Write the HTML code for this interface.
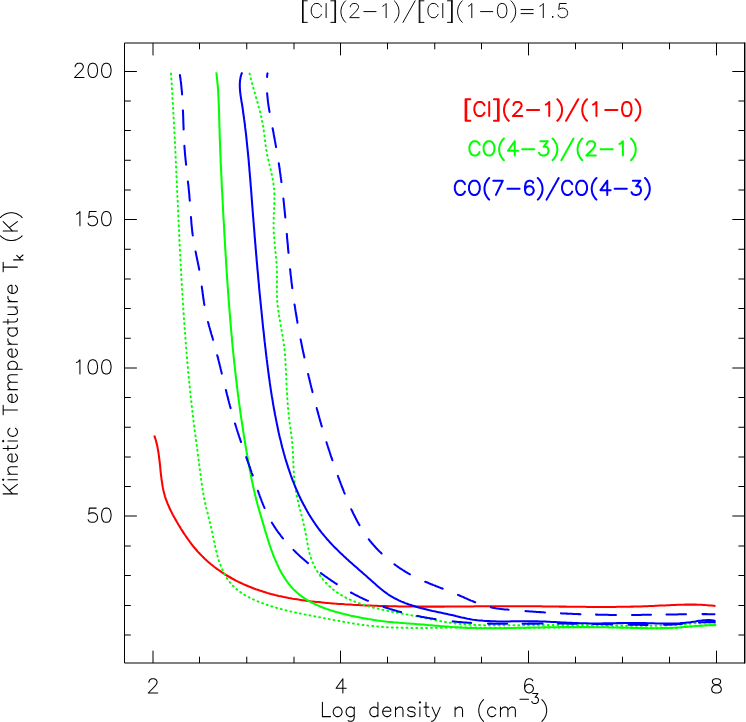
<!DOCTYPE html>
<html lang="en"><head><meta charset="utf-8"><title>[CI](2-1)/[CI](1-0)=1.5</title>
<style>html,body{margin:0;padding:0;background:#fff;font-family:"Liberation Sans",sans-serif}svg{display:block}.t{font-family:"Liberation Sans",sans-serif;font-size:14px;fill:#000;fill-opacity:0}</style></head>
<body>
<svg width="746" height="722" viewBox="0 0 746 722">
<rect x="0" y="0" width="746" height="722" fill="#fff"/>
<path d="M744.72 42.5V663.5" fill="none" stroke="#000" stroke-width="1.45"/>
<path d="M744.72 43H124.5V663H744.72M153 663v-12.4M153 43v12.4M199.5 663v-6.3M199.5 43v6.3M246.75 663v-6.3M246.75 43v6.3M294 663v-6.3M294 43v6.3M340.5 663v-12.4M340.5 43v12.4M387.5 663v-6.3M387.5 43v6.3M434.75 663v-6.3M434.75 43v6.3M481.5 663v-6.3M481.5 43v6.3M528.5 663v-12.4M528.5 43v12.4M575.5 663v-6.3M575.5 43v6.3M622.5 663v-6.3M622.5 43v6.3M669.5 663v-6.3M669.5 43v6.3M716.5 663v-12.4M716.5 43v12.4M124.5 635h6.3M744.72 635h-6.3M124.5 605.5h6.3M744.72 605.5h-6.3M124.5 575.5h6.3M744.72 575.5h-6.3M124.5 546h6.3M744.72 546h-6.3M124.5 516h12.4M744.72 516h-12.4M124.5 486.5h6.3M744.72 486.5h-6.3M124.5 457h6.3M744.72 457h-6.3M124.5 427.25h6.3M744.72 427.25h-6.3M124.5 397.5h6.3M744.72 397.5h-6.3M124.5 368h12.4M744.72 368h-12.4M124.5 338.25h6.3M744.72 338.25h-6.3M124.5 308.5h6.3M744.72 308.5h-6.3M124.5 279h6.3M744.72 279h-6.3M124.5 249.25h6.3M744.72 249.25h-6.3M124.5 219.5h12.4M744.72 219.5h-12.4M124.5 190h6.3M744.72 190h-6.3M124.5 160.25h6.3M744.72 160.25h-6.3M124.5 130.5h6.3M744.72 130.5h-6.3M124.5 101h6.3M744.72 101h-6.3M124.5 71.5h12.4M744.72 71.5h-12.4" fill="none" stroke="#000" stroke-width="1" stroke-linecap="butt" stroke-linejoin="round"/>
<g fill="none" stroke-width="2.05" stroke-linejoin="round">
<path d="M154.3 435.5L154.9 437.4L155.5 439.3L156.1 441.2L156.6 443.2L157 445.1L157.5 447.1L157.8 449.1L158.2 451L158.5 453L158.8 455L159 457L159.3 459L159.5 461L159.8 463L160 465L160.2 467.1L160.4 469.1L160.6 471.1L160.8 473.1L161 475.1L161.3 477.1L161.5 479.1L161.8 481L162.1 483L162.4 485L162.7 486.9L163.1 488.9L163.5 490.8L164 492.7L164.5 494.6L165 496.5L165.6 498.4L166.3 500.2L167 502.1L167.7 503.9L168.5 505.7L169.3 507.5L170.1 509.3L171 511.1L171.9 512.9L172.8 514.7L173.8 516.4L174.8 518.2L175.7 519.9L176.8 521.7L177.8 523.4L178.8 525.2L179.9 526.9L180.9 528.7L182 530.4L183.1 532.1L184.2 533.8L185.4 535.5L186.5 537.2L187.7 538.9L188.9 540.5L190.1 542.2L191.3 543.8L192.5 545.4L193.8 547L195.1 548.5L196.4 550L197.7 551.6L199.1 553L200.5 554.5L201.9 555.9L203.3 557.3L204.7 558.7L206.2 560.1L207.7 561.4L209.2 562.7L210.7 564L212.3 565.3L213.8 566.5L215.4 567.7L217 568.9L218.6 570L220.3 571.2L221.9 572.3L223.6 573.4L225.2 574.5L226.9 575.5L228.7 576.5L230.4 577.5L232.1 578.5L233.9 579.5L235.6 580.4L237.4 581.3L239.2 582.2L241 583L242.8 583.9L244.7 584.7L246.5 585.5L248.3 586.3L250.2 587L252.1 587.8L253.9 588.5L255.8 589.2L257.7 589.8L259.6 590.5L261.5 591.1L263.4 591.7L265.3 592.3L267.3 592.9L269.2 593.4L271.1 594L273 594.5L275 595L276.9 595.4L278.9 595.9L280.8 596.3L282.8 596.8L284.8 597.2L286.7 597.6L288.7 598L290.7 598.3L292.6 598.7L294.6 599L296.6 599.3L298.6 599.6L300.6 599.9L302.6 600.2L304.6 600.5L306.6 600.8L308.6 601L310.5 601.3L312.5 601.5L314.5 601.7L316.6 601.9L318.6 602.1L320.6 602.3L322.6 602.5L324.6 602.7L326.6 602.9L328.6 603.1L330.6 603.2L332.6 603.4L334.6 603.6L336.6 603.7L338.6 603.9L340.6 604L342.6 604.1L344.6 604.3L346.6 604.4L348.6 604.5L350.6 604.6L352.6 604.8L354.6 604.9L356.6 605L358.6 605.1L360.7 605.2L362.7 605.3L364.7 605.4L366.7 605.5L368.7 605.5L370.7 605.6L372.7 605.7L374.7 605.8L376.7 605.8L378.7 605.9L380.7 606L382.7 606L384.7 606.1L386.7 606.1L388.7 606.2L390.7 606.2L392.7 606.3L394.7 606.3L396.7 606.3L398.7 606.4L400.7 606.4L402.7 606.4L404.7 606.4L406.7 606.5L408.7 606.5L410.8 606.5L412.8 606.5L414.8 606.5L416.8 606.6L418.8 606.6L420.8 606.6L422.8 606.6L424.8 606.6L426.8 606.6L428.8 606.6L430.8 606.6L432.8 606.6L434.8 606.6L436.8 606.6L438.8 606.6L440.8 606.6L442.8 606.6L444.8 606.6L446.8 606.5L448.8 606.5L450.8 606.5L452.8 606.5L454.8 606.5L456.8 606.5L458.9 606.5L460.9 606.5L462.9 606.4L464.9 606.4L466.9 606.4L468.9 606.4L470.9 606.4L472.9 606.4L474.9 606.3L476.9 606.3L478.9 606.3L480.9 606.3L482.9 606.3L484.9 606.3L486.9 606.3L488.9 606.2L490.9 606.2L492.9 606.2L494.9 606.2L496.9 606.2L498.9 606.2L501 606.2L503 606.2L505 606.2L507 606.2L509 606.2L511 606.2L513 606.2L515 606.2L517 606.2L519 606.2L521 606.2L523 606.2L525 606.2L527 606.2L529 606.2L531 606.3L533.1 606.3L535.1 606.3L537.1 606.3L539.1 606.3L541.1 606.3L543.1 606.4L545.1 606.4L547.1 606.4L549.1 606.4L551.1 606.5L553.1 606.5L555.1 606.5L557.1 606.5L559.1 606.6L561.2 606.6L563.2 606.6L565.2 606.6L567.2 606.7L569.2 606.7L571.2 606.7L573.2 606.7L575.2 606.7L577.2 606.8L579.2 606.8L581.2 606.8L583.2 606.8L585.2 606.8L587.2 606.9L589.3 606.9L591.3 606.9L593.3 606.9L595.3 606.9L597.3 606.9L599.3 606.9L601.3 606.9L603.3 606.9L605.3 606.9L607.3 606.9L609.3 606.9L611.3 606.9L613.3 606.9L615.3 606.9L617.3 606.8L619.3 606.8L621.4 606.8L623.4 606.8L625.4 606.7L627.4 606.7L629.4 606.7L631.4 606.6L633.4 606.6L635.4 606.5L637.4 606.5L639.4 606.4L641.4 606.4L643.4 606.3L645.4 606.2L647.4 606.2L649.4 606.1L651.4 606L653.4 605.9L655.4 605.8L657.4 605.7L659.4 605.6L661.4 605.5L663.4 605.4L665.4 605.4L667.4 605.3L669.4 605.2L671.4 605.1L673.4 605L675.4 604.9L677.4 604.8L679.4 604.8L681.4 604.7L683.4 604.7L685.4 604.6L687.4 604.6L689.4 604.6L691.4 604.6L693.5 604.6L695.5 604.6L697.5 604.7L699.5 604.8L701.5 604.8L703.5 604.9L705.5 605.1L707.5 605.2L709.5 605.4L711.5 605.6L713.5 605.8L715.5 606" stroke="#f00" stroke-linecap="butt"/>
<path d="M171 73.6L171.1 75.6L171.3 77.6L171.4 79.6L171.5 81.6L171.7 83.6L171.8 85.6L171.9 87.6L172 89.6L172.2 91.6L172.3 93.6L172.4 95.6L172.5 97.6L172.6 99.6L172.7 101.6L172.9 103.6L173 105.6L173.1 107.6L173.2 109.6L173.3 111.6L173.4 113.6L173.5 115.6L173.6 117.6L173.8 119.6L173.9 121.6L174 123.6L174.1 125.6L174.2 127.6L174.3 129.6L174.4 131.6L174.5 133.6L174.6 135.6L174.7 137.6L174.8 139.6L174.9 141.6L175 143.6L175.1 145.6L175.2 147.6L175.3 149.6L175.4 151.6L175.5 153.6L175.6 155.6L175.7 157.6L175.7 159.6L175.8 161.6L175.9 163.6L176 165.6L176.1 167.6L176.2 169.6L176.3 171.6L176.4 173.6L176.5 175.6L176.6 177.6L176.7 179.6L176.8 181.6L176.9 183.6L176.9 185.7L177 187.7L177.1 189.7L177.2 191.7L177.3 193.7L177.4 195.7L177.5 197.7L177.6 199.7L177.7 201.7L177.8 203.7L177.9 205.7L177.9 207.7L178 209.7L178.1 211.7L178.2 213.7L178.3 215.7L178.4 217.7L178.5 219.7L178.6 221.7L178.7 223.7L178.8 225.7L178.9 227.7L179 229.7L179.1 231.7L179.2 233.7L179.3 235.7L179.3 237.7L179.4 239.7L179.5 241.7L179.6 243.7L179.7 245.7L179.8 247.7L179.9 249.7L180 251.7L180.1 253.7L180.2 255.7L180.3 257.7L180.4 259.7L180.6 261.7L180.7 263.7L180.8 265.7L180.9 267.7L181 269.7L181.1 271.7L181.2 273.7L181.3 275.7L181.4 277.7L181.5 279.7L181.6 281.7L181.8 283.7L181.9 285.7L182 287.7L182.1 289.7L182.2 291.7L182.4 293.7L182.5 295.7L182.6 297.7L182.7 299.7L182.8 301.7L183 303.7L183.1 305.7L183.2 307.7L183.4 309.7L183.5 311.7L183.6 313.7L183.8 315.7L183.9 317.7L184 319.7L184.2 321.7L184.3 323.7L184.5 325.7L184.6 327.7L184.8 329.7L184.9 331.7L185.1 333.7L185.2 335.7L185.4 337.7L185.5 339.7L185.7 341.7L185.8 343.7L186 345.7L186.1 347.7L186.3 349.7L186.5 351.7L186.6 353.7L186.8 355.7L187 357.7L187.2 359.6L187.3 361.6L187.5 363.6L187.7 365.6L187.9 367.6L188 369.6L188.2 371.6L188.4 373.6L188.6 375.6L188.8 377.6L189 379.6L189.2 381.6L189.4 383.6L189.6 385.6L189.8 387.6L190 389.6L190.2 391.6L190.4 393.5L190.6 395.5L190.8 397.5L191.1 399.5L191.3 401.5L191.5 403.5L191.7 405.5L191.9 407.5L192.2 409.5L192.4 411.5L192.6 413.5L192.9 415.5L193.1 417.4L193.3 419.4L193.6 421.4L193.8 423.4L194.1 425.4L194.3 427.4L194.6 429.4L194.8 431.4L195.1 433.4L195.4 435.3L195.6 437.3L195.9 439.3L196.1 441.3L196.4 443.3L196.7 445.3L196.9 447.3L197.2 449.3L197.5 451.2L197.7 453.2L198 455.2L198.3 457.2L198.5 459.2L198.8 461.2L199.1 463.2L199.3 465.2L199.6 467.2L199.8 469.1L200.1 471.1L200.4 473.1L200.6 475.1L200.9 477.1L201.1 479.1L201.4 481.1L201.7 483.1L201.9 485L202.2 487L202.5 489L202.8 491L203.2 492.9L203.5 494.9L203.9 496.9L204.2 498.8L204.6 500.8L205.1 502.7L205.5 504.7L206 506.6L206.4 508.5L206.9 510.5L207.4 512.4L207.9 514.3L208.3 516.2L208.8 518.2L209.3 520.1L209.8 522.1L210.3 524L210.7 525.9L211.2 527.9L211.6 529.9L212.1 531.8L212.5 533.8L212.9 535.8L213.3 537.8L213.7 539.8L214.2 541.7L214.6 543.7L215 545.7L215.4 547.7L215.9 549.7L216.4 551.6L216.9 553.6L217.4 555.6L217.9 557.5L218.5 559.4L219.1 561.3L219.8 563.2L220.5 565.1L221.2 567L222 568.8L222.8 570.6L223.7 572.4L224.6 574.2L225.6 575.9L226.6 577.6L227.7 579.3L228.9 580.9L230 582.4L231.3 583.9L232.6 585.4L234 586.8L235.4 588.2L236.8 589.4L238.4 590.7L240 591.9L241.6 593L243.2 594.1L244.9 595.1L246.7 596.1L248.5 597.1L250.3 598L252.1 598.9L253.9 599.7L255.8 600.5L257.6 601.3L259.5 602.1L261.4 602.8L263.3 603.5L265.2 604.2L267.1 604.9L269 605.5L270.9 606.1L272.8 606.7L274.8 607.3L276.7 607.9L278.6 608.4L280.6 608.9L282.5 609.5L284.4 610L286.4 610.4L288.3 610.9L290.3 611.4L292.3 611.8L294.2 612.2L296.2 612.7L298.1 613.1L300.1 613.5L302.1 613.9L304 614.3L306 614.7L308 615.1L309.9 615.4L311.9 615.8L313.9 616.2L315.9 616.6L317.8 616.9L319.8 617.3L321.8 617.7L323.7 618.1L325.7 618.5L327.7 618.8L329.7 619.2L331.6 619.6L333.6 620L335.6 620.4L337.5 620.7L339.5 621.1L341.5 621.5L343.4 621.8L345.4 622.2L347.4 622.5L349.3 622.9L351.3 623.2L353.3 623.5L355.2 623.8L357.2 624.1L359.2 624.4L361.2 624.7L363.1 625L365.1 625.2L367.1 625.5L369.1 625.7L371.1 625.9L373.1 626.1L375 626.3L377 626.5L379 626.6L381 626.8L383 626.9L385 627.1L387 627.2L389 627.3L391 627.4L393 627.5L395 627.5L397 627.6L399 627.7L401 627.7L403 627.8L405 627.8L407 627.8L409 627.9L411 627.9L413 627.9L415 627.9L417.1 627.9L419.1 627.9L421.1 627.9L423.1 627.9L425.1 627.9L427.1 627.9L429.1 627.9L431.1 627.8L433.1 627.8L435.1 627.8L437.2 627.8L439.2 627.8L441.2 627.7L443.2 627.7L445.2 627.7L447.2 627.7L449.2 627.6L451.2 627.6L453.2 627.6L455.2 627.6L457.2 627.6L459.2 627.6L461.3 627.6L463.3 627.6L465.3 627.6L467.3 627.6L469.3 627.6L471.3 627.6L473.3 627.6L475.3 627.6L477.3 627.6L479.3 627.7L481.3 627.7L483.3 627.7L485.3 627.7L487.3 627.7L489.3 627.7L491.3 627.7L493.3 627.8L495.3 627.8L497.3 627.8L499.3 627.8L501.3 627.8L503.3 627.8L505.3 627.8L507.3 627.9L509.3 627.9L511.3 627.9L513.3 627.9L515.3 627.9L517.3 627.9L519.3 627.9L521.3 627.9L523.3 627.9L525.3 627.9L527.3 627.9L529.3 627.9L531.3 627.8L533.3 627.8L535.3 627.8L537.3 627.8L539.3 627.8L541.3 627.7L543.3 627.7L545.3 627.7L547.3 627.6L549.3 627.6L551.3 627.6L553.3 627.5L555.3 627.5L557.3 627.5L559.3 627.4L561.3 627.4L563.4 627.4L565.4 627.3L567.4 627.3L569.4 627.3L571.4 627.3L573.4 627.2L575.4 627.2L577.4 627.2L579.4 627.1L581.4 627.1L583.4 627.1L585.4 627.1L587.4 627.1L589.4 627.1L591.4 627L593.4 627L595.5 627L597.5 627L599.5 627L601.5 627L603.5 627.1L605.5 627.1L607.5 627.1L609.5 627.1L611.5 627.1L613.5 627.2L615.5 627.2L617.5 627.3L619.5 627.3L621.5 627.4L623.5 627.4L625.5 627.5L627.5 627.5L629.5 627.6L631.5 627.7L633.5 627.8L635.5 627.8L637.6 627.9L639.6 627.9L641.6 628L643.6 628.1L645.6 628.1L647.6 628.2L649.6 628.2L651.6 628.2L653.6 628.3L655.6 628.3L657.6 628.3L659.6 628.3L661.6 628.3L663.6 628.2L665.6 628.2L667.6 628.1L669.6 628.1L671.6 628L673.5 627.9L675.5 627.8L677.5 627.7L679.5 627.5L681.5 627.3L683.5 627.2L685.5 627L687.5 626.8L689.5 626.6L691.5 626.4L693.5 626.2L695.5 626L697.5 625.8L699.5 625.7L701.5 625.5L703.5 625.4L705.5 625.2L707.5 625.2L709.5 625.1L711.5 625.1L713.5 625.1L715.5 625.1" stroke="#0f0" stroke-width="2" stroke-linecap="round" stroke-dasharray="0.9 4"/>
<path d="M249.6 73.6L250.1 75.5L250.5 77.5L251 79.4L251.5 81.4L252.1 83.3L252.6 85.2L253.1 87.2L253.7 89.1L254.2 91L254.8 92.9L255.3 94.9L255.9 96.8L256.5 98.7L257 100.7L257.6 102.6L258.1 104.5L258.6 106.5L259.1 108.4L259.7 110.3L260.2 112.3L260.6 114.2L261.1 116.2L261.5 118.1L261.9 120.1L262.3 122L262.7 124L263.1 126L263.4 127.9L263.7 129.9L263.9 131.9L264.2 133.9L264.5 135.9L264.7 137.9L265 139.8L265.2 141.8L265.5 143.8L265.7 145.8L266 147.8L266.3 149.8L266.7 151.7L267 153.7L267.4 155.7L267.8 157.6L268.3 159.6L268.7 161.5L269.2 163.5L269.6 165.5L270.1 167.4L270.6 169.3L271 171.3L271.5 173.3L271.9 175.2L272.3 177.2L272.7 179.1L273 181.1L273.4 183L273.6 185L273.9 187L274.1 189L274.2 190.9L274.3 192.9L274.4 194.9L274.4 196.9L274.4 198.9L274.4 200.9L274.3 202.9L274.3 204.9L274.2 207L274.1 209L274 211L273.9 213L273.8 215L273.7 217L273.7 219L273.6 221L273.6 223.1L273.6 225.1L273.6 227.1L273.6 229.1L273.7 231.1L273.8 233.1L273.9 235.1L274.1 237.1L274.3 239L274.4 241L274.6 243L274.8 245L275 247L275.2 249L275.4 251L275.6 253L275.8 255L276 257L276.2 258.9L276.4 260.9L276.5 262.9L276.6 264.9L276.8 266.9L276.9 268.9L276.9 270.9L277 272.9L277 274.9L277 277L277 279L277 281L276.9 283L276.9 285L276.9 287L276.9 289L276.9 291L276.9 293L276.9 295L277 297L277.1 299L277.2 301L277.4 303L277.6 305L277.8 307L278.1 309L278.4 310.9L278.6 312.9L278.9 314.9L279.3 316.9L279.6 318.9L279.9 320.8L280.3 322.8L280.6 324.8L281 326.8L281.4 328.7L281.7 330.7L282.1 332.7L282.4 334.7L282.7 336.6L283.1 338.6L283.4 340.6L283.7 342.6L283.9 344.6L284.2 346.6L284.4 348.5L284.6 350.5L284.8 352.5L285 354.5L285.1 356.5L285.2 358.5L285.4 360.5L285.5 362.5L285.6 364.5L285.7 366.5L285.8 368.5L285.9 370.5L286 372.5L286.1 374.5L286.2 376.5L286.3 378.5L286.3 380.5L286.4 382.5L286.5 384.5L286.6 386.5L286.7 388.5L286.8 390.5L287 392.5L287.1 394.5L287.2 396.5L287.3 398.5L287.5 400.5L287.6 402.5L287.8 404.5L287.9 406.5L288.1 408.5L288.3 410.5L288.5 412.5L288.7 414.5L288.9 416.5L289.1 418.4L289.4 420.4L289.6 422.4L289.9 424.4L290.2 426.4L290.5 428.4L290.7 430.4L291 432.3L291.3 434.3L291.5 436.3L291.8 438.3L292 440.3L292.2 442.3L292.4 444.3L292.5 446.3L292.6 448.3L292.8 450.3L292.9 452.3L293 454.3L293.1 456.3L293.2 458.3L293.2 460.3L293.3 462.3L293.4 464.3L293.5 466.3L293.6 468.3L293.7 470.3L293.8 472.3L293.9 474.3L294.1 476.3L294.2 478.3L294.4 480.3L294.6 482.3L294.8 484.3L295.1 486.3L295.4 488.2L295.7 490.2L296.1 492.2L296.4 494.1L296.8 496.1L297.3 498.1L297.7 500L298.2 502L298.6 503.9L299.1 505.9L299.6 507.8L300.1 509.8L300.6 511.7L301.1 513.6L301.6 515.6L302.1 517.5L302.6 519.5L303 521.4L303.5 523.4L303.9 525.3L304.4 527.3L304.8 529.2L305.2 531.2L305.6 533.2L306 535.1L306.3 537.1L306.7 539.1L307 541.1L307.4 543.1L307.7 545L308.1 547L308.5 549L308.9 550.9L309.4 552.9L309.9 554.8L310.5 556.7L311.2 558.6L311.9 560.5L312.6 562.3L313.4 564.2L314.3 566L315.2 567.8L316.2 569.5L317.2 571.3L318.2 573L319.4 574.6L320.5 576.3L321.7 577.9L323 579.5L324.3 581L325.6 582.5L327 583.9L328.4 585.3L329.9 586.7L331.4 588L332.9 589.3L334.5 590.5L336.1 591.7L337.7 592.8L339.4 593.9L341.1 595L342.8 596L344.6 596.9L346.3 597.9L348.1 598.7L350 599.6L351.8 600.4L353.6 601.2L355.5 601.9L357.4 602.7L359.3 603.3L361.2 604L363.1 604.6L365.1 605.2L367 605.8L368.9 606.4L370.9 606.9L372.8 607.5L374.8 608L376.7 608.4L378.7 608.9L380.6 609.4L382.6 609.8L384.5 610.2L386.5 610.6L388.4 611L390.4 611.4L392.3 611.8L394.3 612.2L396.3 612.6L398.2 612.9L400.2 613.3L402.1 613.7L404.1 614L406.1 614.4L408 614.7L410 615.1L412 615.5L413.9 615.8L415.9 616.2L417.8 616.6L419.8 617L421.8 617.4L423.7 617.8L425.7 618.2L427.7 618.6L429.6 619L431.6 619.4L433.6 619.8L435.5 620.2L437.5 620.6L439.5 621L441.5 621.3L443.4 621.7L445.4 622L447.4 622.3L449.4 622.6L451.3 622.9L453.3 623.1L455.3 623.4L457.3 623.6L459.3 623.8L461.3 624L463.3 624.2L465.3 624.3L467.3 624.5L469.3 624.6L471.3 624.7L473.3 624.8L475.3 624.9L477.3 625L479.3 625.1L481.3 625.1L483.3 625.2L485.3 625.2L487.3 625.2L489.3 625.3L491.3 625.3L493.3 625.3L495.3 625.3L497.3 625.3L499.3 625.3L501.3 625.3L503.3 625.3L505.3 625.3L507.3 625.3L509.4 625.2L511.4 625.2L513.4 625.2L515.4 625.2L517.4 625.2L519.4 625.2L521.4 625.2L523.4 625.2L525.4 625.1L527.4 625.1L529.4 625.1L531.4 625.1L533.4 625.1L535.4 625.1L537.4 625.1L539.4 625.1L541.4 625.1L543.4 625.1L545.4 625.1L547.4 625L549.4 625L551.4 625L553.4 625L555.4 625L557.4 625L559.4 625L561.4 625L563.4 625L565.4 625L567.4 625L569.4 625L571.4 625L573.4 625L575.4 625.1L577.4 625.1L579.4 625.1L581.4 625.1L583.4 625.1L585.4 625.1L587.4 625.1L589.4 625.2L591.4 625.2L593.5 625.2L595.5 625.2L597.5 625.2L599.5 625.3L601.5 625.3L603.5 625.3L605.5 625.4L607.5 625.4L609.5 625.4L611.5 625.5L613.5 625.5L615.5 625.5L617.5 625.6L619.5 625.6L621.5 625.7L623.5 625.7L625.5 625.7L627.5 625.7L629.5 625.8L631.5 625.8L633.6 625.8L635.6 625.8L637.6 625.8L639.6 625.8L641.6 625.8L643.6 625.8L645.6 625.8L647.6 625.8L649.6 625.8L651.6 625.8L653.6 625.7L655.6 625.7L657.6 625.7L659.6 625.6L661.6 625.5L663.6 625.5L665.6 625.4L667.6 625.3L669.6 625.2L671.6 625.1L673.6 625L675.6 624.9L677.6 624.7L679.6 624.6L681.6 624.4L683.5 624.2L685.5 624.1L687.5 623.9L689.5 623.7L691.5 623.5L693.5 623.4L695.5 623.2L697.5 623L699.5 622.9L701.5 622.8L703.5 622.7L705.5 622.6L707.5 622.5L709.5 622.5L711.5 622.5L713.5 622.5L715.5 622.6" stroke="#0f0" stroke-width="2" stroke-linecap="round" stroke-dasharray="0.9 4"/>
<path d="M216.3 72.3L216.6 74.3L216.8 76.3L217 78.3L217.2 80.3L217.4 82.3L217.6 84.3L217.8 86.3L217.9 88.2L218.1 90.2L218.2 92.2L218.3 94.2L218.4 96.2L218.5 98.2L218.6 100.2L218.7 102.2L218.8 104.2L218.9 106.2L218.9 108.2L219 110.2L219.1 112.2L219.1 114.2L219.2 116.2L219.2 118.2L219.3 120.2L219.3 122.2L219.4 124.2L219.4 126.2L219.5 128.2L219.6 130.2L219.6 132.2L219.7 134.2L219.7 136.2L219.8 138.3L219.9 140.3L219.9 142.3L220 144.3L220.1 146.3L220.2 148.3L220.2 150.3L220.3 152.3L220.4 154.3L220.5 156.3L220.6 158.3L220.6 160.3L220.7 162.3L220.8 164.3L220.9 166.3L221 168.3L221.1 170.3L221.2 172.3L221.3 174.3L221.4 176.3L221.5 178.3L221.6 180.3L221.7 182.3L221.7 184.3L221.8 186.3L221.9 188.3L222 190.3L222.2 192.3L222.3 194.3L222.4 196.3L222.5 198.3L222.6 200.3L222.7 202.3L222.8 204.3L222.9 206.3L223 208.3L223.1 210.3L223.2 212.3L223.3 214.3L223.4 216.3L223.5 218.3L223.6 220.3L223.8 222.3L223.9 224.3L224 226.3L224.1 228.3L224.2 230.3L224.3 232.3L224.4 234.3L224.5 236.3L224.7 238.3L224.8 240.3L224.9 242.3L225 244.3L225.1 246.3L225.2 248.3L225.4 250.3L225.5 252.3L225.6 254.3L225.7 256.3L225.9 258.3L226 260.3L226.1 262.3L226.2 264.3L226.4 266.3L226.5 268.3L226.6 270.3L226.7 272.3L226.9 274.3L227 276.3L227.1 278.3L227.3 280.3L227.4 282.3L227.6 284.3L227.7 286.3L227.8 288.3L228 290.3L228.1 292.3L228.3 294.3L228.4 296.3L228.6 298.3L228.7 300.3L228.9 302.3L229 304.3L229.2 306.3L229.3 308.2L229.5 310.2L229.6 312.2L229.8 314.2L230 316.2L230.1 318.2L230.3 320.2L230.5 322.2L230.6 324.2L230.8 326.2L231 328.2L231.1 330.2L231.3 332.2L231.5 334.2L231.7 336.2L231.9 338.2L232 340.2L232.2 342.2L232.4 344.2L232.6 346.1L232.8 348.1L233 350.1L233.2 352.1L233.4 354.1L233.6 356.1L233.8 358.1L234 360.1L234.2 362.1L234.4 364.1L234.7 366.1L234.9 368.1L235.1 370L235.3 372L235.5 374L235.8 376L236 378L236.2 380L236.5 382L236.7 384L236.9 386L237.2 388L237.4 389.9L237.7 391.9L237.9 393.9L238.2 395.9L238.4 397.9L238.7 399.9L239 401.9L239.2 403.9L239.5 405.9L239.8 407.8L240.1 409.8L240.3 411.8L240.6 413.8L240.9 415.8L241.2 417.8L241.5 419.8L241.8 421.7L242.1 423.7L242.4 425.7L242.7 427.7L243 429.7L243.3 431.6L243.6 433.6L243.9 435.6L244.2 437.6L244.5 439.6L244.9 441.5L245.2 443.5L245.5 445.5L245.9 447.5L246.2 449.4L246.5 451.4L246.9 453.4L247.2 455.4L247.6 457.3L247.9 459.3L248.3 461.3L248.6 463.2L249 465.2L249.4 467.2L249.7 469.1L250.1 471.1L250.5 473.1L250.9 475L251.2 477L251.6 479L252 480.9L252.4 482.9L252.8 484.8L253.2 486.8L253.7 488.7L254.1 490.7L254.6 492.6L255 494.6L255.5 496.5L256 498.4L256.5 500.4L257 502.3L257.5 504.2L258 506.1L258.6 508.1L259.1 510L259.7 511.9L260.2 513.8L260.8 515.7L261.4 517.6L261.9 519.6L262.5 521.5L263 523.4L263.6 525.3L264.2 527.3L264.7 529.2L265.3 531.1L265.9 533.1L266.5 535L267.1 536.9L267.7 538.8L268.3 540.8L268.9 542.7L269.5 544.6L270.2 546.5L270.8 548.4L271.5 550.3L272.2 552.2L272.9 554.1L273.7 556L274.4 557.8L275.2 559.7L276 561.6L276.8 563.4L277.7 565.2L278.5 567.1L279.4 568.9L280.4 570.7L281.3 572.4L282.3 574.2L283.4 575.9L284.4 577.6L285.5 579.3L286.6 580.9L287.8 582.5L289 584.1L290.2 585.6L291.5 587.1L292.8 588.6L294.2 590L295.6 591.3L297 592.6L298.5 593.9L300 595.1L301.6 596.3L303.2 597.4L304.8 598.5L306.5 599.6L308.2 600.6L309.9 601.6L311.7 602.5L313.4 603.4L315.2 604.3L317.1 605.1L318.9 605.9L320.8 606.7L322.7 607.5L324.6 608.2L326.5 608.9L328.4 609.5L330.4 610.2L332.3 610.8L334.3 611.4L336.3 612L338.3 612.5L340.2 613L342.2 613.6L344.2 614.1L346.2 614.5L348.2 615L350.2 615.5L352.1 615.9L354.1 616.3L356.1 616.7L358 617.1L360 617.5L362 617.9L363.9 618.3L365.9 618.6L367.8 619L369.8 619.3L371.7 619.6L373.7 619.9L375.6 620.2L377.6 620.5L379.6 620.7L381.5 621L383.5 621.2L385.4 621.5L387.4 621.7L389.4 621.9L391.4 622.1L393.3 622.3L395.3 622.4L397.3 622.6L399.3 622.8L401.3 622.9L403.3 623.1L405.3 623.2L407.3 623.4L409.3 623.5L411.3 623.7L413.3 623.8L415.3 624L417.3 624.2L419.3 624.3L421.3 624.5L423.3 624.6L425.3 624.8L427.3 625L429.3 625.2L431.3 625.3L433.3 625.5L435.3 625.7L437.3 625.8L439.3 626L441.3 626.2L443.3 626.3L445.3 626.5L447.3 626.6L449.3 626.8L451.3 626.9L453.3 627.1L455.3 627.2L457.3 627.3L459.3 627.5L461.3 627.6L463.3 627.7L465.3 627.8L467.3 627.9L469.3 628L471.3 628L473.3 628.1L475.3 628.2L477.3 628.2L479.3 628.2L481.3 628.3L483.3 628.3L485.3 628.3L487.3 628.3L489.3 628.3L491.3 628.3L493.3 628.3L495.3 628.3L497.3 628.2L499.3 628.2L501.3 628.2L503.3 628.2L505.3 628.1L507.3 628.1L509.3 628L511.3 628L513.3 627.9L515.3 627.9L517.3 627.8L519.4 627.8L521.4 627.8L523.4 627.7L525.4 627.7L527.4 627.6L529.4 627.6L531.4 627.5L533.4 627.5L535.4 627.5L537.4 627.4L539.4 627.4L541.4 627.4L543.4 627.3L545.4 627.3L547.4 627.3L549.4 627.2L551.4 627.2L553.4 627.2L555.4 627.2L557.4 627.2L559.4 627.1L561.4 627.1L563.4 627.1L565.4 627.1L567.4 627.1L569.4 627.1L571.4 627.1L573.4 627.1L575.4 627.1L577.5 627.1L579.5 627.1L581.5 627.1L583.5 627.1L585.5 627.1L587.5 627.1L589.5 627.1L591.5 627.2L593.5 627.2L595.5 627.2L597.5 627.2L599.5 627.2L601.5 627.3L603.5 627.3L605.5 627.3L607.5 627.3L609.5 627.4L611.5 627.4L613.5 627.5L615.5 627.5L617.5 627.5L619.5 627.6L621.5 627.6L623.5 627.7L625.5 627.7L627.5 627.8L629.5 627.8L631.5 627.9L633.5 627.9L635.5 628L637.6 628L639.6 628.1L641.6 628.1L643.6 628.1L645.6 628.1L647.6 628.2L649.6 628.2L651.6 628.2L653.6 628.2L655.6 628.2L657.6 628.2L659.6 628.2L661.6 628.1L663.6 628.1L665.6 628.1L667.6 628L669.6 627.9L671.6 627.9L673.6 627.8L675.6 627.7L677.6 627.5L679.6 627.4L681.6 627.3L683.5 627.1L685.5 627L687.5 626.8L689.5 626.6L691.5 626.5L693.5 626.3L695.5 626.1L697.5 626L699.5 625.8L701.5 625.7L703.5 625.5L705.5 625.4L707.5 625.3L709.5 625.2L711.5 625.2L713.5 625.1L715.5 625.1" stroke="#0f0" stroke-linecap="butt"/>
<path d="M179.9 75L180 76L180.2 77L180.3 78L180.5 79L180.6 80L180.7 80.9L180.9 81.9L181 82.9L181.1 83.9L181.2 84.9L181.3 85.9L181.4 86.9L181.5 87.9L181.6 88.9L181.7 89.9L181.8 90.9L181.9 91.9L182 92.9L182 93.9L182.1 94.4M182.9 110.4L183 111.4L183 112.4L183.1 113.4L183.1 114.4L183.1 115.4L183.2 116.4L183.2 117.4L183.2 118.4L183.3 119.4L183.3 120.4L183.3 121.4L183.4 122.4L183.4 123.4L183.4 124.4L183.5 125.4L183.5 126.4L183.5 127.4L183.6 128.4L183.6 129.4M184.4 145.8L184.5 146.8L184.5 147.8L184.6 148.8L184.7 149.8L184.8 150.8L184.9 151.8L184.9 152.8L185 153.8L185.1 154.8L185.2 155.8L185.3 156.8L185.4 157.8L185.5 158.8L185.6 159.8L185.7 160.8L185.8 161.8L185.9 162.7L186 163.7L186.1 164.7M187.9 181.6L188 182.6L188.1 183.6L188.3 184.6L188.4 185.6L188.5 186.6L188.6 187.6L188.7 188.6L188.8 189.6L188.9 190.6L189 191.6L189.1 192.6L189.2 193.6L189.3 194.6L189.4 195.6L189.4 196.6L189.5 197.6L189.6 198.6L189.7 199.6L189.8 200.6M191 217L191 218L191.1 219L191.2 220L191.3 221L191.3 222L191.4 223L191.5 224L191.6 225L191.7 226L191.8 227L191.9 228L192 229L192.1 230L192.2 231L192.3 232L192.4 233L192.6 233.9L192.7 234.9L192.8 235.4M195.6 251.6L195.8 252.6L196 253.6L196.2 254.6L196.4 255.6L196.6 256.5L196.8 257.5L197 258.5L197.2 259.5L197.4 260.5L197.6 261.4L197.8 262.4L198 263.4L198.2 264.4L198.4 265.4L198.6 266.3L198.8 267.3L199 268.3L199.2 269.3L199.2 269.8M201.8 286.6L201.9 287.6L202 288.6L202.2 289.5L202.3 290.5L202.4 291.5L202.6 292.5L202.7 293.5L202.8 294.5L203 295.5L203.1 296.5L203.2 297.5L203.4 298.5L203.5 299.5L203.7 300.4L203.8 301.4L204 302.4L204.1 303.4L204.3 304.4L204.4 304.9M208 322L208.3 322.9L208.5 323.9L208.8 324.9L209 325.8L209.3 326.8L209.6 327.8L209.9 328.7L210.1 329.7L210.4 330.6L210.7 331.6L211 332.6L211.2 333.5L211.5 334.5L211.8 335.4L212.1 336.4L212.4 337.4L212.7 338.3L212.9 339.3L213.1 339.8M217.2 355.2L217.5 356.2L217.7 357.1L218 358.1L218.2 359.1L218.5 360L218.7 361L219 362L219.2 362.9L219.4 363.9L219.7 364.9L219.9 365.8L220.2 366.8L220.4 367.8L220.6 368.7L220.9 369.7L221.1 370.7L221.4 371.7L221.6 372.6L221.8 373.6M225.9 390.1L226.2 391.1L226.4 392.1L226.6 393.1L226.9 394L227.1 395L227.4 396L227.6 396.9L227.9 397.9L228.1 398.9L228.4 399.9L228.6 400.8L228.9 401.8L229.1 402.8L229.4 403.7L229.7 404.7L229.9 405.7L230.2 406.6L230.4 407.6L230.6 408.1M235 423.5L235.3 424.4L235.6 425.4L235.9 426.3L236.2 427.3L236.5 428.2L236.8 429.2L237.1 430.1L237.4 431.1L237.7 432L238 433L238.3 433.9L238.6 434.9L238.9 435.8L239.2 436.8L239.5 437.7L239.9 438.7L240.2 439.6L240.5 440.5L240.8 441.5L241 442M246.2 457.1L246.5 458L246.9 458.9L247.2 459.9L247.5 460.8L247.9 461.8L248.2 462.7L248.5 463.7L248.9 464.6L249.2 465.6L249.5 466.5L249.9 467.4L250.2 468.4L250.5 469.3L250.9 470.3L251.2 471.2L251.5 472.2L251.8 473.1L252.2 474.1L252.5 475L252.7 475.5M257.9 490.8L258.2 491.7L258.6 492.6L258.9 493.6L259.3 494.5L259.6 495.5L259.9 496.4L260.3 497.4L260.6 498.3L261 499.2L261.4 500.2L261.7 501.1L262.1 502.1L262.5 503L262.8 503.9L263.2 504.8L263.6 505.8L264 506.7L264.4 507.6L264.6 508M271.9 522.7L272.4 523.5L273 524.4L273.5 525.2L274 526L274.5 526.9L275.1 527.7L275.6 528.5L276.2 529.4L276.7 530.2L277.3 531L277.9 531.8L278.5 532.6L279.1 533.4L279.7 534.2L280.3 535L280.9 535.8L281.5 536.5L282.1 537.3L282.7 538.1L283 538.5M293.5 549.9L294.2 550.6L294.9 551.3L295.6 552L296.3 552.7L297.1 553.4L297.8 554.1L298.5 554.8L299.3 555.5L300 556.2L300.8 556.9L301.5 557.5L302.3 558.2L303 558.9L303.8 559.5L304.6 560.2L305.3 560.8L306.1 561.5L306.9 562.2L307.6 562.8L308 563.1M320.8 573L321.6 573.6L322.4 574.2L323.2 574.8L324 575.4L324.8 576L325.7 576.6L326.5 577.2L327.3 577.7L328.1 578.3L328.9 578.9L329.8 579.4L330.6 580L331.4 580.6L332.2 581.1L333.1 581.7L333.9 582.2L334.7 582.8L335.6 583.3L336.4 583.8L336.8 584.1M350.9 592.5L351.8 593L352.7 593.4L353.5 593.9L354.4 594.4L355.3 594.8L356.2 595.3L357.1 595.7L358 596.2L358.8 596.6L359.7 597.1L360.6 597.5L361.5 597.9L362.4 598.3L363.3 598.8L364.2 599.2L365.1 599.6L366 600L366.9 600.4L367.9 600.8M383.3 606.7L384.2 607.1L385.2 607.4L386.1 607.7L387.1 608L388 608.3L389 608.6L389.9 608.9L390.9 609.2L391.9 609.5L392.8 609.8L393.8 610.1L394.8 610.4L395.7 610.6L396.7 610.9L397.7 611.2L398.6 611.4L399.6 611.7L400.6 612L401.1 612.1M417.2 615.9L418.2 616.1L419.2 616.3L420.2 616.5L421.2 616.7L422.2 616.9L423.1 617L424.1 617.2L425.1 617.4L426.1 617.6L427.1 617.8L428.1 617.9L429.1 618.1L430 618.3L431 618.4L432 618.6L433 618.8L434 618.9L435 619.1L435.5 619.1M452.7 621.4L453.7 621.5L454.7 621.6L455.7 621.7L456.7 621.8L457.7 621.9L458.7 621.9L459.7 622L460.7 622.1L461.7 622.2L462.6 622.3L463.6 622.4L464.6 622.4L465.6 622.5L466.6 622.6L467.6 622.7L468.6 622.7L469.6 622.8L470.6 622.8L471.1 622.9M488 623.6L489 623.6L490 623.6L491 623.6L492 623.7L493 623.7L494 623.7L495 623.7L496 623.7L497 623.7L498 623.7L499 623.7L500 623.8L501.1 623.8L502.1 623.8L503.1 623.8L504.1 623.8L505.1 623.8L506.1 623.8L507.1 623.8M522.6 623.7L523.6 623.7L524.6 623.7L525.6 623.7L526.6 623.7L527.6 623.7L528.6 623.6L529.6 623.6L530.6 623.6L531.6 623.6L532.6 623.6L533.6 623.6L534.6 623.6L535.6 623.6L536.6 623.6L537.6 623.6L538.6 623.6L539.6 623.5L540.6 623.5L541.6 623.5L542.6 623.5M558.1 623.5L559.1 623.5L560.1 623.5L561.1 623.5L562.1 623.5L563.1 623.5L564.1 623.5L565.1 623.5L566.1 623.5L567.1 623.5L568.1 623.5L569.1 623.6L570.1 623.6L571.1 623.6L572.1 623.6L573.1 623.6L574.1 623.6L575.1 623.6L576.1 623.6L576.6 623.6M593.1 623.9L594.1 623.9L595.1 623.9L596.1 623.9L597.1 623.9L598.1 623.9L599.1 624L600.1 624L601.1 624L602.1 624L603.1 624L604.1 624.1L605.1 624.1L606.1 624.1L607.1 624.1L608.1 624.1L609.1 624.2L610.1 624.2L611.1 624.2L612.1 624.2M628.6 624.6L629.6 624.6L630.6 624.7L631.6 624.7L632.6 624.7L633.6 624.7L634.6 624.8L635.6 624.8L636.6 624.8L637.6 624.8L638.6 624.8L639.6 624.8L640.6 624.9L641.6 624.9L642.6 624.9L643.6 624.9L644.6 624.9L645.6 624.9L646.6 624.9L647.6 624.9M664.2 624.8L665.1 624.7L666.1 624.7L667.1 624.7L668.1 624.6L669.1 624.6L670.1 624.5L671.1 624.5L672.1 624.4L673.1 624.4L674.1 624.3L675.1 624.3L676.1 624.2L677.1 624.2L678.1 624.1L679.1 624L680.1 623.9L681.1 623.9L682.1 623.8L682.6 623.8M699 622.5L700 622.4L701 622.3L702 622.3L703 622.2L704 622.2L705 622.2L706 622.1L707 622.1L708 622.1L709 622.1L710 622.1L711 622.1L712 622.1L713 622.1L714 622.1L714.5 622.2" stroke="#00f" stroke-linecap="round"/>
<path d="M267.5 73.4L267.3 74.4L267.2 75.4L267.1 76.4L267.1 76.9M267.1 93.2L267.2 94.2L267.3 95.2L267.4 96.2L267.5 97.2L267.6 98.2L267.7 99.2L267.8 100.2L267.9 101.2L268 102.2L268.2 103.1L268.3 104.1L268.4 105.1L268.6 106.1L268.7 107.1L268.9 108.1L269.1 109.1L269.2 110.1L269.4 111.1L269.6 112M272.6 128.3L272.8 129.3L273 130.3L273.2 131.3L273.4 132.3L273.6 133.3L273.7 134.2L273.9 135.2L274.1 136.2L274.3 137.2L274.5 138.2L274.7 139.2L274.8 140.2L275 141.1L275.2 142.1L275.4 143.1L275.5 144.1L275.7 145.1L275.9 146.1L276.1 147.1M278.8 163.3L278.9 164.3L279.1 165.3L279.2 166.3L279.4 167.3L279.5 168.3L279.7 169.3L279.8 170.2L279.9 171.2L280.1 172.2L280.2 173.2L280.4 174.2L280.5 175.2L280.6 176.2L280.8 177.2L280.9 178.2L281.1 179.2L281.2 180.1L281.3 181.1L281.4 182.1M283.4 198.5L283.5 199.5L283.6 200.5L283.7 201.5L283.8 202.5L283.9 203.5L284 204.5L284.1 205.5L284.2 206.5L284.3 207.5L284.4 208.4L284.5 209.4L284.6 210.4L284.7 211.4L284.8 212.4L284.9 213.4L285 214.4L285.1 215.4L285.2 216.4L285.3 217.4M286.8 233.9L286.9 234.9L287 235.9L287 236.9L287.1 237.9L287.2 238.8L287.3 239.8L287.4 240.8L287.5 241.8L287.6 242.8L287.7 243.8L287.8 244.8L287.9 245.8L287.9 246.8L288 247.8L288.1 248.8L288.2 249.8L288.3 250.8L288.4 251.8L288.5 252.8M290.1 269.2L290.2 270.2L290.3 271.2L290.4 272.2L290.5 273.2L290.6 274.2L290.7 275.2L290.9 276.2L291 277.2L291.1 278.2L291.2 279.2L291.3 280.2L291.4 281.2L291.5 282.2L291.7 283.2L291.8 284.2L291.9 285.1L292 286.1L292.2 287.1L292.3 288.1M294.5 304.5L294.7 305.4L294.9 306.4L295 307.4L295.2 308.4L295.3 309.4L295.5 310.4L295.6 311.4L295.8 312.3L295.9 313.3L296.1 314.3L296.3 315.3L296.4 316.3L296.6 317.3L296.8 318.3L296.9 319.2L297.1 320.2L297.3 321.2L297.4 322.2L297.5 322.7M300.6 339.4L300.8 340.4L301 341.4L301.2 342.3L301.4 343.3L301.6 344.3L301.8 345.3L302 346.3L302.2 347.2L302.4 348.2L302.6 349.2L302.8 350.2L303 351.1L303.2 352.1L303.4 353.1L303.7 354.1L303.9 355.1L304.1 356L304.3 357L304.4 357.5M308.1 374.1L308.4 375.1L308.6 376L308.8 377L309.1 378L309.3 378.9L309.5 379.9L309.8 380.9L310 381.9L310.2 382.8L310.5 383.8L310.7 384.8L311 385.8L311.2 386.7L311.4 387.7L311.7 388.7L311.9 389.6L312.2 390.6L312.4 391.6L312.5 392.1M316.7 408.1L316.9 409L317.2 410L317.5 411L317.7 411.9L318 412.9L318.3 413.9L318.5 414.8L318.8 415.8L319.1 416.8L319.3 417.7L319.6 418.7L319.9 419.7L320.1 420.6L320.4 421.6L320.7 422.5L321 423.5L321.2 424.5L321.5 425.4L321.8 426.4M326.5 442.2L326.8 443.2L327.1 444.1L327.4 445.1L327.7 446L328 447L328.3 447.9L328.6 448.9L328.9 449.9L329.3 450.8L329.6 451.8L329.9 452.7L330.2 453.7L330.5 454.6L330.8 455.6L331.1 456.5L331.4 457.5L331.8 458.4L332.1 459.4L332.4 460.3M337.9 475.9L338.2 476.8L338.6 477.8L338.9 478.7L339.3 479.6L339.6 480.6L340 481.5L340.3 482.4L340.7 483.4L341 484.3L341.4 485.2L341.7 486.2L342.1 487.1L342.5 488L342.8 489L343.2 489.9L343.6 490.8L343.9 491.8L344.3 492.7L344.7 493.6M351.3 509.3L351.7 510.2L352.2 511.1L352.6 512L353 512.9L353.4 513.8L353.9 514.7L354.3 515.6L354.8 516.4L355.2 517.3L355.7 518.2L356.1 519.1L356.6 520L357.1 520.9L357.5 521.7L358 522.6L358.5 523.5L359 524.3L359.5 525.2M368.8 539.3L369.4 540.1L370 540.9L370.7 541.7L371.3 542.4L371.9 543.2L372.6 544L373.2 544.7L373.9 545.5L374.6 546.2L375.2 547L375.9 547.7L376.6 548.5L377.3 549.2L378 549.9L378.7 550.7L379.4 551.4L380.1 552.1L380.9 552.8L381.6 553.5M394.4 564.3L395.2 564.9L396 565.5L396.8 566L397.6 566.6L398.5 567.2L399.3 567.8L400.1 568.3L401 568.9L401.8 569.4L402.7 570L403.5 570.5L404.4 571L405.2 571.6L406.1 572.1L407 572.6L407.8 573.1L408.7 573.6L409.6 574.1L410 574.3M425.2 581.7L426.1 582.1L427.1 582.4L428 582.8L428.9 583.2L429.8 583.6L430.7 584L431.6 584.3L432.6 584.7L433.5 585.1L434.4 585.4L435.3 585.8L436.2 586.2L437.2 586.5L438.1 586.9L439 587.3L439.9 587.6L440.9 588L441.8 588.3L442.7 588.7M458 594.9L459 595.3L459.9 595.7L460.8 596.1L461.7 596.5L462.7 596.9L463.6 597.3L464.5 597.7L465.4 598.1L466.4 598.5L467.3 598.9L468.2 599.4L469.1 599.8L470.1 600.2L471 600.6L471.9 600.9L472.9 601.3L473.8 601.7L474.7 602.1L475.2 602.3M490.8 607.3L491.8 607.6L492.8 607.7L493.8 607.9L494.7 608.1L495.7 608.3L496.7 608.4L497.7 608.6L498.7 608.7L499.7 608.8L500.6 608.9L501.6 609.1L502.6 609.2L503.6 609.3L504.6 609.4L505.6 609.5L506.6 609.5L507.6 609.6L508.6 609.7M525.5 611.1L526.5 611.2L527.5 611.2L528.5 611.3L529.5 611.4L530.5 611.5L531.5 611.5L532.5 611.6L533.5 611.7L534.5 611.7L535.5 611.8L536.5 611.9L537.5 611.9L538.5 612L539.5 612.1L540.5 612.1L541.5 612.2L542.5 612.3L543.5 612.3L544.5 612.4L545 612.4M561 613.3L562 613.4L563 613.4L564 613.5L565 613.5L566 613.6L567 613.6L568 613.7L569 613.7L570 613.8L571 613.8L572 613.8L573 613.9L574 613.9L575 614L576 614L577 614L578 614.1L579 614.1L580 614.2L580.5 614.2M596 614.6L597 614.6L598 614.7L599 614.7L600 614.7L601 614.7L602 614.7L603 614.8L604 614.8L605 614.8L606 614.8L607 614.8L608 614.8L609 614.9L610 614.9L611 614.9L612 614.9L613 614.9L614 614.9L615 614.9L616 614.9M632 614.9L633 614.9L634 614.9L635 614.9L636 614.9L637 614.9L638 614.9L639 614.9L640 614.9L641 614.9L642 614.8L643 614.8L644 614.8L645 614.8L646 614.8L647 614.8L648 614.8L649 614.8L650 614.7L651 614.7M666.5 614.5L667.5 614.5L668.5 614.5L669.5 614.5L670.5 614.5L671.5 614.4L672.5 614.4L673.5 614.4L674.5 614.4L675.5 614.4L676.5 614.4L677.5 614.4L678.5 614.3L679.5 614.3L680.5 614.3L681.5 614.3L682.5 614.3L683.5 614.3L684.5 614.3L685.5 614.3L686 614.3M702.5 614.1L703.5 614.1L704.5 614.1L705.5 614.1L706.5 614.1L707.5 614.2L708.5 614.2L709.5 614.2L710.5 614.2L711.5 614.2L712.5 614.2L713.5 614.2L714.5 614.2" stroke="#00f" stroke-linecap="round"/>
<path d="M242.1 72.3L241.4 74.3L240.8 76.3L240.4 78.3L240.1 80.2L239.9 82.2L239.8 84.2L239.8 86.2L239.9 88.2L240 90.2L240.2 92.1L240.4 94.1L240.7 96.1L241 98.1L241.3 100.1L241.6 102.1L242 104L242.3 106L242.6 108L242.9 110L243.1 112L243.4 114L243.7 116L244 117.9L244.2 119.9L244.5 121.9L244.8 123.9L245 125.9L245.2 127.9L245.5 129.9L245.7 131.8L246 133.8L246.2 135.8L246.4 137.8L246.6 139.8L246.8 141.8L247 143.8L247.2 145.8L247.4 147.7L247.6 149.7L247.8 151.7L248 153.7L248.2 155.7L248.4 157.7L248.6 159.7L248.8 161.7L248.9 163.7L249.1 165.7L249.3 167.7L249.4 169.6L249.6 171.6L249.8 173.6L249.9 175.6L250.1 177.6L250.3 179.6L250.4 181.6L250.6 183.6L250.7 185.6L250.9 187.6L251.1 189.6L251.2 191.6L251.4 193.6L251.5 195.6L251.7 197.6L251.8 199.6L252 201.6L252.1 203.6L252.3 205.6L252.4 207.5L252.6 209.5L252.7 211.5L252.9 213.5L253 215.5L253.2 217.5L253.4 219.5L253.5 221.5L253.7 223.5L253.8 225.5L254 227.5L254.2 229.5L254.3 231.5L254.5 233.5L254.6 235.6L254.8 237.6L255 239.6L255.1 241.6L255.3 243.6L255.5 245.6L255.6 247.6L255.8 249.6L256 251.6L256.1 253.6L256.3 255.6L256.5 257.6L256.6 259.6L256.8 261.6L257 263.6L257.2 265.6L257.3 267.6L257.5 269.6L257.7 271.6L257.9 273.6L258.1 275.6L258.2 277.6L258.4 279.6L258.6 281.6L258.8 283.6L259 285.6L259.1 287.6L259.3 289.6L259.5 291.6L259.7 293.6L259.9 295.6L260.1 297.6L260.3 299.6L260.5 301.6L260.7 303.6L260.9 305.6L261.1 307.5L261.3 309.5L261.5 311.5L261.7 313.5L261.9 315.5L262.1 317.5L262.3 319.5L262.5 321.5L262.7 323.5L262.9 325.5L263.1 327.5L263.3 329.5L263.6 331.4L263.8 333.4L264 335.4L264.2 337.4L264.4 339.4L264.6 341.4L264.9 343.4L265.1 345.3L265.3 347.3L265.6 349.3L265.8 351.3L266 353.3L266.2 355.2L266.5 357.2L266.7 359.2L267 361.2L267.2 363.2L267.5 365.1L267.7 367.1L268 369.1L268.2 371.1L268.5 373L268.7 375L269 377L269.3 379L269.6 380.9L269.8 382.9L270.1 384.9L270.4 386.9L270.7 388.8L271 390.8L271.3 392.8L271.6 394.7L271.9 396.7L272.3 398.7L272.6 400.7L272.9 402.6L273.2 404.6L273.6 406.6L273.9 408.6L274.3 410.5L274.7 412.5L275 414.5L275.4 416.4L275.8 418.4L276.2 420.4L276.6 422.4L277 424.4L277.4 426.3L277.8 428.3L278.2 430.3L278.6 432.3L279.1 434.2L279.5 436.2L280 438.2L280.5 440.1L281 442.1L281.4 444.1L281.9 446L282.4 448L283 449.9L283.5 451.9L284 453.8L284.6 455.8L285.1 457.7L285.7 459.7L286.3 461.6L286.9 463.5L287.5 465.4L288.1 467.4L288.8 469.3L289.4 471.2L290.1 473.1L290.7 475L291.4 476.9L292.1 478.8L292.8 480.6L293.6 482.5L294.3 484.4L295 486.2L295.8 488.1L296.6 489.9L297.4 491.7L298.2 493.6L299 495.4L299.9 497.2L300.7 499L301.6 500.8L302.5 502.5L303.4 504.3L304.4 506.1L305.3 507.8L306.3 509.5L307.2 511.3L308.2 513L309.2 514.7L310.3 516.4L311.3 518.1L312.4 519.7L313.5 521.4L314.6 523L315.7 524.7L316.9 526.3L318 527.9L319.2 529.5L320.4 531L321.6 532.6L322.9 534.2L324.1 535.7L325.4 537.2L326.7 538.7L328.1 540.2L329.4 541.7L330.8 543.2L332.1 544.6L333.5 546.1L334.9 547.5L336.4 548.9L337.8 550.4L339.2 551.8L340.7 553.2L342.2 554.5L343.6 555.9L345.1 557.3L346.6 558.7L348.1 560L349.6 561.4L351.1 562.7L352.6 564.1L354.1 565.4L355.7 566.8L357.2 568.1L358.7 569.5L360.2 570.8L361.8 572.1L363.3 573.5L364.8 574.8L366.3 576.1L367.8 577.4L369.3 578.8L370.8 580.1L372.3 581.4L373.8 582.8L375.3 584.1L376.8 585.4L378.3 586.7L379.8 588L381.3 589.2L382.9 590.5L384.4 591.7L386 592.8L387.6 594L389.2 595.1L390.9 596.1L392.6 597.1L394.3 598.1L396.1 599L397.9 599.9L399.7 600.8L401.5 601.6L403.4 602.3L405.2 603.1L407.1 603.8L409 604.5L410.9 605.1L412.9 605.7L414.8 606.3L416.8 606.9L418.7 607.5L420.7 608L422.7 608.5L424.6 609L426.6 609.5L428.6 610L430.6 610.4L432.5 610.9L434.5 611.3L436.5 611.8L438.4 612.2L440.3 612.6L442.3 613L444.2 613.4L446.1 613.8L448.1 614.3L450 614.7L451.9 615.1L453.9 615.5L455.8 616L457.7 616.4L459.7 616.9L461.6 617.4L463.6 617.8L465.6 618.3L467.5 618.7L469.5 619L471.5 619.4L473.4 619.7L475.4 619.9L477.4 620.2L479.4 620.4L481.4 620.6L483.4 620.8L485.4 620.9L487.4 621L489.4 621.1L491.3 621.2L493.3 621.3L495.3 621.3L497.3 621.4L499.4 621.4L501.4 621.4L503.4 621.4L505.4 621.4L507.4 621.4L509.4 621.4L511.4 621.3L513.4 621.3L515.4 621.3L517.4 621.3L519.4 621.2L521.4 621.2L523.4 621.2L525.4 621.2L527.4 621.2L529.5 621.2L531.5 621.2L533.5 621.2L535.5 621.3L537.5 621.3L539.5 621.4L541.5 621.4L543.5 621.5L545.5 621.6L547.5 621.7L549.5 621.8L551.5 621.9L553.5 621.9L555.5 622L557.4 622.2L559.4 622.3L561.4 622.4L563.4 622.5L565.4 622.6L567.4 622.7L569.4 622.8L571.4 622.8L573.4 622.9L575.4 623L577.4 623.1L579.4 623.2L581.4 623.2L583.4 623.3L585.4 623.3L587.4 623.3L589.4 623.4L591.4 623.4L593.4 623.4L595.4 623.4L597.4 623.4L599.4 623.4L601.4 623.4L603.4 623.3L605.4 623.3L607.5 623.3L609.5 623.3L611.5 623.2L613.5 623.2L615.5 623.2L617.5 623.1L619.5 623.1L621.5 623.1L623.5 623.1L625.5 623L627.5 623L629.5 623L631.5 623L633.5 623L635.5 623L637.5 623L639.6 623L641.6 623.1L643.6 623.1L645.6 623.1L647.6 623.2L649.6 623.2L651.6 623.3L653.6 623.3L655.6 623.4L657.6 623.4L659.6 623.5L661.6 623.5L663.6 623.6L665.6 623.6L667.6 623.6L669.6 623.6L671.6 623.5L673.6 623.5L675.6 623.4L677.6 623.4L679.6 623.3L681.5 623.1L683.5 623L685.5 622.8L687.5 622.6L689.5 622.4L691.5 622.1L693.5 621.8L695.5 621.5L697.5 621.1L699.5 620.8L701.5 620.6L703.5 620.3L705.4 620.2L707.5 620.1L709.5 620.1L711.5 620.3L713.5 620.6L715.5 621" stroke="#00f" stroke-linecap="butt"/>
</g>
<path d="M302.5 0.79L302.5 22.37M303.17 0.79L303.17 22.37M302.5 0.79L307.22 0.79M302.5 22.37L307.22 22.37M321.38 6.86L320.71 5.51L319.36 4.16L318.01 3.49L315.31 3.49L313.96 4.16L312.62 5.51L311.94 6.86L311.27 8.88L311.27 12.25L311.94 14.28L312.62 15.63L313.96 16.98L315.31 17.65L318.01 17.65L319.36 16.98L320.71 15.63L321.38 14.28M326.11 3.49L326.11 17.65M334.87 0.79L334.87 22.37M335.55 0.79L335.55 22.37M330.83 0.79L335.55 0.79M330.83 22.37L335.55 22.37M345.67 0.79L344.32 2.14L342.97 4.16L341.62 6.86L340.94 10.23L340.94 12.93L341.62 16.3L342.97 19L344.32 21.02L345.67 22.37M350.39 6.86L350.39 6.18L351.06 4.83L351.74 4.16L353.09 3.49L355.78 3.49L357.13 4.16L357.81 4.83L358.48 6.18L358.48 7.53L357.81 8.88L356.46 10.9L349.71 17.65L359.16 17.65M363.88 11.58L376.02 11.58M382.76 6.18L384.11 5.51L386.14 3.49L386.14 17.65M394.23 0.79L395.58 2.14L396.93 4.16L398.28 6.86L398.95 10.23L398.95 12.93L398.28 16.3L396.93 19L395.58 21.02L394.23 22.37M415.14 0.79L403 22.37M419.19 0.79L419.19 22.37M419.86 0.79L419.86 22.37M419.19 0.79L423.91 0.79M419.19 22.37L423.91 22.37M438.07 6.86L437.4 5.51L436.05 4.16L434.7 3.49L432 3.49L430.65 4.16L429.3 5.51L428.63 6.86L427.96 8.88L427.96 12.25L428.63 14.28L429.3 15.63L430.65 16.98L432 17.65L434.7 17.65L436.05 16.98L437.4 15.63L438.07 14.28M442.79 3.49L442.79 17.65M451.56 0.79L451.56 22.37M452.24 0.79L452.24 22.37M447.52 0.79L452.24 0.79M447.52 22.37L452.24 22.37M462.35 0.79L461.01 2.14L459.66 4.16L458.31 6.86L457.63 10.23L457.63 12.93L458.31 16.3L459.66 19L461.01 21.02L462.35 22.37M468.43 6.18L469.77 5.51L471.8 3.49L471.8 17.65M480.57 11.58L492.71 11.58M501.48 3.49L499.45 4.16L498.1 6.18L497.43 9.56L497.43 11.58L498.1 14.95L499.45 16.98L501.48 17.65L502.82 17.65L504.85 16.98L506.2 14.95L506.87 11.58L506.87 9.56L506.2 6.18L504.85 4.16L502.82 3.49L501.48 3.49M510.92 0.79L512.27 2.14L513.62 4.16L514.97 6.86L515.64 10.23L515.64 12.93L514.97 16.3L513.62 19L512.27 21.02L510.92 22.37M521.04 9.56L533.18 9.56M521.04 13.6L533.18 13.6M539.92 6.18L541.27 5.51L543.29 3.49L543.29 17.65M552.74 16.3L552.06 16.98L552.74 17.65L553.41 16.98L552.74 16.3M566.23 3.49L559.48 3.49L558.81 9.56L559.48 8.88L561.51 8.21L563.53 8.21L565.55 8.88L566.9 10.23L567.58 12.25L567.58 13.6L566.9 15.63L565.55 16.98L563.53 17.65L561.51 17.65L559.48 16.98L558.81 16.3L558.13 14.95" fill="none" stroke="#000" stroke-width="0.98" stroke-linecap="round" stroke-linejoin="round"/>
<text class="t" x="300" y="17.5" text-anchor="start">[CI](2-1)/[CI](1-0)=1.5</text>
<path d="M148.94 682.17L148.94 681.49L149.61 680.14L150.29 679.46L151.65 678.78L154.35 678.78L155.71 679.46L156.38 680.14L157.06 681.49L157.06 682.85L156.38 684.2L155.03 686.23L148.26 693L157.74 693" fill="none" stroke="#000" stroke-width="1.06" stroke-linecap="round" stroke-linejoin="round"/>
<text class="t" x="153" y="692.7" text-anchor="middle">2</text>
<path d="M342.87 678.78L336.1 688.26L346.25 688.26M342.87 678.78L342.87 693" fill="none" stroke="#000" stroke-width="1.06" stroke-linecap="round" stroke-linejoin="round"/>
<text class="t" x="340.83" y="692.7" text-anchor="middle">4</text>
<path d="M532.73 680.81L532.05 679.46L530.02 678.78L528.67 678.78L526.64 679.46L525.28 681.49L524.61 684.88L524.61 688.26L525.28 690.97L526.64 692.32L528.67 693L529.35 693L531.38 692.32L532.73 690.97L533.41 688.94L533.41 688.26L532.73 686.23L531.38 684.88L529.35 684.2L528.67 684.2L526.64 684.88L525.28 686.23L524.61 688.26" fill="none" stroke="#000" stroke-width="1.06" stroke-linecap="round" stroke-linejoin="round"/>
<text class="t" x="528.67" y="692.7" text-anchor="middle">6</text>
<path d="M715.15 678.78L713.12 679.46L712.44 680.81L712.44 682.17L713.12 683.52L714.47 684.2L717.18 684.88L719.21 685.55L720.56 686.91L721.24 688.26L721.24 690.29L720.56 691.65L719.89 692.32L717.86 693L715.15 693L713.12 692.32L712.44 691.65L711.76 690.29L711.76 688.26L712.44 686.91L713.79 685.55L715.82 684.88L718.53 684.2L719.89 683.52L720.56 682.17L720.56 680.81L719.89 679.46L717.86 678.78L715.15 678.78" fill="none" stroke="#000" stroke-width="1.06" stroke-linecap="round" stroke-linejoin="round"/>
<text class="t" x="716.5" y="692.7" text-anchor="middle">8</text>
<path d="M96.17 508.11L89.41 508.11L88.73 514.2L89.41 513.52L91.44 512.85L93.47 512.85L95.5 513.52L96.85 514.88L97.53 516.91L97.53 518.26L96.85 520.29L95.5 521.65L93.47 522.32L91.44 522.32L89.41 521.65L88.73 520.97L88.05 519.62M105.65 508.11L103.62 508.78L102.27 510.82L101.59 514.2L101.59 516.23L102.27 519.62L103.62 521.65L105.65 522.32L107.01 522.32L109.04 521.65L110.39 519.62L111.07 516.23L111.07 514.2L110.39 510.82L109.04 508.78L107.01 508.11L105.65 508.11" fill="none" stroke="#000" stroke-width="1.06" stroke-linecap="round" stroke-linejoin="round"/>
<text class="t" x="113.1" y="522.32" text-anchor="end">50</text>
<path d="M76.54 362.54L77.9 361.86L79.93 359.83L79.93 374.05M92.11 359.83L90.08 360.51L88.73 362.54L88.05 365.93L88.05 367.96L88.73 371.34L90.08 373.37L92.11 374.05L93.47 374.05L95.5 373.37L96.85 371.34L97.53 367.96L97.53 365.93L96.85 362.54L95.5 360.51L93.47 359.83L92.11 359.83M105.65 359.83L103.62 360.51L102.27 362.54L101.59 365.93L101.59 367.96L102.27 371.34L103.62 373.37L105.65 374.05L107.01 374.05L109.04 373.37L110.39 371.34L111.07 367.96L111.07 365.93L110.39 362.54L109.04 360.51L107.01 359.83L105.65 359.83" fill="none" stroke="#000" stroke-width="1.06" stroke-linecap="round" stroke-linejoin="round"/>
<text class="t" x="113.1" y="374.05" text-anchor="end">100</text>
<path d="M76.54 214.27L77.9 213.59L79.93 211.56L79.93 225.78M96.17 211.56L89.4 211.56L88.73 217.65L89.4 216.97L91.44 216.3L93.47 216.3L95.5 216.97L96.85 218.33L97.53 220.36L97.53 221.71L96.85 223.74L95.5 225.1L93.47 225.78L91.44 225.78L89.4 225.1L88.73 224.42L88.05 223.07M105.65 211.56L103.62 212.24L102.27 214.27L101.59 217.65L101.59 219.68L102.27 223.07L103.62 225.1L105.65 225.78L107.01 225.78L109.04 225.1L110.39 223.07L111.07 219.68L111.07 217.65L110.39 214.27L109.04 212.24L107.01 211.56L105.65 211.56" fill="none" stroke="#000" stroke-width="1.06" stroke-linecap="round" stroke-linejoin="round"/>
<text class="t" x="113.1" y="225.78" text-anchor="end">150</text>
<path d="M75.19 66.67L75.19 65.99L75.86 64.64L76.54 63.96L77.9 63.28L80.6 63.28L81.96 63.96L82.63 64.64L83.31 65.99L83.31 67.34L82.63 68.7L81.28 70.73L74.51 77.5L83.99 77.5M92.11 63.28L90.08 63.96L88.73 65.99L88.05 69.38L88.05 71.41L88.73 74.79L90.08 76.82L92.11 77.5L93.47 77.5L95.5 76.82L96.85 74.79L97.53 71.41L97.53 69.38L96.85 65.99L95.5 63.96L93.47 63.28L92.11 63.28M105.65 63.28L103.62 63.96L102.27 65.99L101.59 69.38L101.59 71.41L102.27 74.79L103.62 76.82L105.65 77.5L107.01 77.5L109.04 76.82L110.39 74.79L111.07 71.41L111.07 69.38L110.39 65.99L109.04 63.96L107.01 63.28L105.65 63.28" fill="none" stroke="#000" stroke-width="1.06" stroke-linecap="round" stroke-linejoin="round"/>
<text class="t" x="113.1" y="77.5" text-anchor="end">200</text>
<path d="M322.41 702.38L322.41 716.6M322.41 716.6L330.53 716.6M336.62 707.12L335.27 707.8L333.92 709.15L333.24 711.18L333.24 712.54L333.92 714.57L335.27 715.92L336.62 716.6L338.66 716.6L340.01 715.92L341.36 714.57L342.04 712.54L342.04 711.18L341.36 709.15L340.01 707.8L338.66 707.12L336.62 707.12M354.23 707.12L354.23 717.95L353.55 719.99L352.87 720.66L351.52 721.34L349.49 721.34L348.13 720.66M354.23 709.15L352.87 707.8L351.52 707.12L349.49 707.12L348.13 707.8L346.78 709.15L346.1 711.18L346.1 712.54L346.78 714.57L348.13 715.92L349.49 716.6L351.52 716.6L352.87 715.92L354.23 714.57M377.92 702.38L377.92 716.6M377.92 709.15L376.57 707.8L375.21 707.12L373.18 707.12L371.83 707.8L370.47 709.15L369.8 711.18L369.8 712.54L370.47 714.57L371.83 715.92L373.18 716.6L375.21 716.6L376.57 715.92L377.92 714.57M382.66 711.18L390.78 711.18L390.78 709.83L390.11 708.48L389.43 707.8L388.08 707.12L386.05 707.12L384.69 707.8L383.34 709.15L382.66 711.18L382.66 712.54L383.34 714.57L384.69 715.92L386.05 716.6L388.08 716.6L389.43 715.92L390.78 714.57M395.52 707.12L395.52 716.6M395.52 709.83L397.56 707.8L398.91 707.12L400.94 707.12L402.29 707.8L402.97 709.83L402.97 716.6M415.16 709.15L414.48 707.8L412.45 707.12L410.42 707.12L408.39 707.8L407.71 709.15L408.39 710.51L409.74 711.18L413.13 711.86L414.48 712.54L415.16 713.89L415.16 714.57L414.48 715.92L412.45 716.6L410.42 716.6L408.39 715.92L407.71 714.57M419.22 702.38L419.9 703.06L420.57 702.38L419.9 701.71L419.22 702.38M419.9 707.12L419.9 716.6M425.99 702.38L425.99 713.89L426.67 715.92L428.02 716.6L429.37 716.6M423.96 707.12L428.7 707.12M432.08 707.12L436.14 716.6M440.21 707.12L436.14 716.6L434.79 719.31L433.44 720.66L432.08 721.34L431.4 721.34M455.1 707.12L455.1 716.6M455.1 709.83L457.13 707.8L458.48 707.12L460.52 707.12L461.87 707.8L462.55 709.83L462.55 716.6M483.53 699.68L482.18 701.03L480.83 703.06L479.47 705.77L478.79 709.15L478.79 711.86L479.47 715.25L480.83 717.95L482.18 719.99L483.53 721.34M495.72 709.15L494.37 707.8L493.01 707.12L490.98 707.12L489.63 707.8L488.27 709.15L487.6 711.18L487.6 712.54L488.27 714.57L489.63 715.92L490.98 716.6L493.01 716.6L494.37 715.92L495.72 714.57M500.46 707.12L500.46 716.6M500.46 709.83L502.49 707.8L503.84 707.12L505.88 707.12L507.23 707.8L507.91 709.83L507.91 716.6M507.91 709.83L509.94 707.8L511.29 707.12L513.32 707.12L514.68 707.8L515.35 709.83L515.35 716.6M519.96 699.2L528.49 699.2M532.75 693.51L537.96 693.51L535.12 697.31L536.54 697.31L537.49 697.78L537.96 698.25L538.44 699.68L538.44 700.62L537.96 702.04L537.02 702.99L535.6 703.47L534.17 703.47L532.75 702.99L532.28 702.52L531.8 701.57M541.89 699.68L543.25 701.03L544.6 703.06L545.95 705.77L546.63 709.15L546.63 711.86L545.95 715.25L544.6 717.95L543.25 719.99L541.89 721.34" fill="none" stroke="#000" stroke-width="1.06" stroke-linecap="round" stroke-linejoin="round"/>
<text class="t" x="320" y="716.6" text-anchor="start">Log density n (cm<tspan dy="-8" font-size="10">-3</tspan><tspan dy="8">)</tspan></text>
<path d="M3.18 493.89L17.4 493.89M3.18 484.41L12.66 493.89M9.28 490.51L17.4 484.41M3.18 480.35L3.86 479.68L3.18 479L2.51 479.68L3.18 480.35M7.92 479.68L17.4 479.68M7.92 474.26L17.4 474.26M10.63 474.26L8.6 472.23L7.92 470.87L7.92 468.84L8.6 467.49L10.63 466.81L17.4 466.81M11.98 462.07L11.98 453.95L10.63 453.95L9.28 454.63L8.6 455.3L7.92 456.66L7.92 458.69L8.6 460.04L9.95 461.4L11.98 462.07L13.34 462.07L15.37 461.4L16.72 460.04L17.4 458.69L17.4 456.66L16.72 455.3L15.37 453.95M3.18 448.53L14.69 448.53L16.72 447.86L17.4 446.5L17.4 445.15M7.92 450.56L7.92 445.83M3.18 441.76L3.86 441.09L3.18 440.41L2.51 441.09L3.18 441.76M7.92 441.09L17.4 441.09M9.95 428.22L8.6 429.58L7.92 430.93L7.92 432.96L8.6 434.32L9.95 435.67L11.98 436.35L13.34 436.35L15.37 435.67L16.72 434.32L17.4 432.96L17.4 430.93L16.72 429.58L15.37 428.22M3.18 409.94L17.4 409.94M3.18 414.68L3.18 405.21M11.98 402.5L11.98 394.37L10.63 394.37L9.28 395.05L8.6 395.73L7.92 397.08L7.92 399.11L8.6 400.47L9.95 401.82L11.98 402.5L13.34 402.5L15.37 401.82L16.72 400.47L17.4 399.11L17.4 397.08L16.72 395.73L15.37 394.37M7.92 389.63L17.4 389.63M10.63 389.63L8.6 387.6L7.92 386.25L7.92 384.22L8.6 382.86L10.63 382.19L17.4 382.19M10.63 382.19L8.6 380.16L7.92 378.8L7.92 376.77L8.6 375.42L10.63 374.74L17.4 374.74M7.92 369.32L22.14 369.32M9.95 369.32L8.6 367.97L7.92 366.62L7.92 364.59L8.6 363.23L9.95 361.88L11.98 361.2L13.34 361.2L15.37 361.88L16.72 363.23L17.4 364.59L17.4 366.62L16.72 367.97L15.37 369.32M11.98 357.14L11.98 349.01L10.63 349.01L9.28 349.69L8.6 350.37L7.92 351.72L7.92 353.75L8.6 355.11L9.95 356.46L11.98 357.14L13.34 357.14L15.37 356.46L16.72 355.11L17.4 353.75L17.4 351.72L16.72 350.37L15.37 349.01M7.92 344.27L17.4 344.27M11.98 344.27L9.95 343.6L8.6 342.24L7.92 340.89L7.92 338.86M7.92 328.03L17.4 328.03M9.95 328.03L8.6 329.38L7.92 330.74L7.92 332.77L8.6 334.12L9.95 335.47L11.98 336.15L13.34 336.15L15.37 335.47L16.72 334.12L17.4 332.77L17.4 330.74L16.72 329.38L15.37 328.03M3.18 321.93L14.69 321.93L16.72 321.26L17.4 319.9L17.4 318.55M7.92 323.97L7.92 319.23M7.92 314.49L14.69 314.49L16.72 313.81L17.4 312.46L17.4 310.43L16.72 309.07L14.69 307.04M7.92 307.04L17.4 307.04M7.92 301.62L17.4 301.62M11.98 301.62L9.95 300.95L8.6 299.59L7.92 298.24L7.92 296.21M11.98 293.5L11.98 285.38L10.63 285.38L9.28 286.05L8.6 286.73L7.92 288.08L7.92 290.12L8.6 291.47L9.95 292.82L11.98 293.5L13.34 293.5L15.37 292.82L16.72 291.47L17.4 290.12L17.4 288.08L16.72 286.73L15.37 285.38M3.18 267.1L17.4 267.1M3.18 271.84L3.18 262.36M13.64 259.89L23.02 259.89M16.76 255.43L21.23 259.89M19.44 258.11L23.02 254.98M0.47 235.81L1.83 237.16L3.86 238.51L6.57 239.87L9.95 240.55L12.66 240.55L16.05 239.87L18.75 238.51L20.79 237.16L22.14 235.81M3.18 231.07L17.4 231.07M3.18 221.59L12.66 231.07M9.28 227.68L17.4 221.59M0.47 217.53L1.83 216.17L3.86 214.82L6.57 213.47L9.95 212.79L12.66 212.79L16.05 213.47L18.75 214.82L20.79 216.17L22.14 217.53" fill="none" stroke="#000" stroke-width="1.06" stroke-linecap="round" stroke-linejoin="round"/>
<text class="t" x="17.4" y="496" text-anchor="start" transform="rotate(-90 17.4 496)">Kinetic Temperature T<tspan dy="4" font-size="10">k</tspan><tspan dy="-4"> (K)</tspan></text>
<path d="M465.6 99.24L465.6 120.82M466.27 99.24L466.27 120.82M465.6 99.24L470.32 99.24M465.6 120.82L470.32 120.82M484.48 105.31L483.81 103.96L482.46 102.61L481.11 101.94L478.41 101.94L477.06 102.61L475.72 103.96L475.04 105.31L474.37 107.33L474.37 110.7L475.04 112.73L475.72 114.08L477.06 115.43L478.41 116.1L481.11 116.1L482.46 115.43L483.81 114.08L484.48 112.73M489.21 101.94L489.21 116.1M497.97 99.24L497.97 120.82M498.65 99.24L498.65 120.82M493.93 99.24L498.65 99.24M493.93 120.82L498.65 120.82M508.77 99.24L507.42 100.59L506.07 102.61L504.72 105.31L504.04 108.68L504.04 111.38L504.72 114.75L506.07 117.45L507.42 119.47L508.77 120.82M513.49 105.31L513.49 104.63L514.16 103.28L514.84 102.61L516.19 101.94L518.88 101.94L520.23 102.61L520.91 103.28L521.58 104.63L521.58 105.98L520.91 107.33L519.56 109.35L512.81 116.1L522.26 116.1M526.98 110.03L539.12 110.03M545.86 104.63L547.21 103.96L549.24 101.94L549.24 116.1M557.33 99.24L558.68 100.59L560.03 102.61L561.38 105.31L562.05 108.68L562.05 111.38L561.38 114.75L560.03 117.45L558.68 119.47L557.33 120.82M578.24 99.24L566.1 120.82M587.01 99.24L585.66 100.59L584.31 102.61L582.96 105.31L582.29 108.68L582.29 111.38L582.96 114.75L584.31 117.45L585.66 119.47L587.01 120.82M593.08 104.63L594.43 103.96L596.45 101.94L596.45 116.1M605.22 110.03L617.36 110.03M626.13 101.94L624.11 102.61L622.76 104.63L622.08 108.01L622.08 110.03L622.76 113.4L624.11 115.43L626.13 116.1L627.48 116.1L629.5 115.43L630.85 113.4L631.52 110.03L631.52 108.01L630.85 104.63L629.5 102.61L627.48 101.94L626.13 101.94M635.57 99.24L636.92 100.59L638.27 102.61L639.62 105.31L640.29 108.68L640.29 111.38L639.62 114.75L638.27 117.45L636.92 119.47L635.57 120.82" fill="none" stroke="#f00" stroke-width="2" stroke-linecap="round" stroke-linejoin="round"/>
<text class="t" x="463" y="115.9" text-anchor="start">[CI](2-1)/(1-0)</text>
<path d="M479.57 144.63L478.89 143.28L477.54 141.93L476.19 141.25L473.48 141.25L472.13 141.93L470.78 143.28L470.1 144.63L469.43 146.66L469.43 150.04L470.1 152.07L470.78 153.42L472.13 154.77L473.48 155.45L476.19 155.45L477.54 154.77L478.89 153.42L479.57 152.07M487.68 141.25L486.33 141.93L484.98 143.28L484.3 144.63L483.62 146.66L483.62 150.04L484.3 152.07L484.98 153.42L486.33 154.77L487.68 155.45L490.38 155.45L491.74 154.77L493.09 153.42L493.76 152.07L494.44 150.04L494.44 146.66L493.76 144.63L493.09 143.28L491.74 141.93L490.38 141.25L487.68 141.25M503.9 138.55L502.55 139.9L501.2 141.93L499.85 144.63L499.17 148.01L499.17 150.72L499.85 154.1L501.2 156.8L502.55 158.83L503.9 160.18M514.72 141.25L507.96 150.72L518.1 150.72M514.72 141.25L514.72 155.45M522.16 149.37L534.32 149.37M540.41 141.25L547.84 141.25L543.79 146.66L545.82 146.66L547.17 147.34L547.84 148.01L548.52 150.04L548.52 151.39L547.84 153.42L546.49 154.77L544.46 155.45L542.44 155.45L540.41 154.77L539.73 154.1L539.06 152.75M552.58 138.55L553.93 139.9L555.28 141.93L556.63 144.63L557.31 148.01L557.31 150.72L556.63 154.1L555.28 156.8L553.93 158.83L552.58 160.18M573.53 138.55L561.36 160.18M582.32 138.55L580.97 139.9L579.62 141.93L578.26 144.63L577.59 148.01L577.59 150.72L578.26 154.1L579.62 156.8L580.97 158.83L582.32 160.18M587.05 144.63L587.05 143.96L587.73 142.61L588.4 141.93L589.76 141.25L592.46 141.25L593.81 141.93L594.49 142.61L595.16 143.96L595.16 145.31L594.49 146.66L593.14 148.69L586.38 155.45L595.84 155.45M600.57 149.37L612.74 149.37M619.5 143.96L620.85 143.28L622.88 141.25L622.88 155.45M630.99 138.55L632.34 139.9L633.7 141.93L635.05 144.63L635.72 148.01L635.72 150.72L635.05 154.1L633.7 156.8L632.34 158.83L630.99 160.18" fill="none" stroke="#0f0" stroke-width="2" stroke-linecap="round" stroke-linejoin="round"/>
<text class="t" x="467" y="155.4" text-anchor="start">CO(4-3)/(2-1)</text>
<path d="M464.94 184.11L464.27 182.76L462.92 181.41L461.57 180.74L458.87 180.74L457.52 181.41L456.17 182.76L455.5 184.11L454.82 186.13L454.82 189.5L455.5 191.53L456.17 192.88L457.52 194.23L458.87 194.9L461.57 194.9L462.92 194.23L464.27 192.88L464.94 191.53M473.04 180.74L471.69 181.41L470.34 182.76L469.66 184.11L468.99 186.13L468.99 189.5L469.66 191.53L470.34 192.88L471.69 194.23L473.04 194.9L475.73 194.9L477.08 194.23L478.43 192.88L479.11 191.53L479.78 189.5L479.78 186.13L479.11 184.11L478.43 182.76L477.08 181.41L475.73 180.74L473.04 180.74M489.22 178.04L487.87 179.39L486.53 181.41L485.18 184.11L484.5 187.48L484.5 190.18L485.18 193.55L486.53 196.25L487.87 198.27L489.22 199.62M502.71 180.74L495.97 194.9M493.27 180.74L502.71 180.74M507.43 188.83L519.58 188.83M533.07 182.76L532.39 181.41L530.37 180.74L529.02 180.74L527 181.41L525.65 183.43L524.97 186.81L524.97 190.18L525.65 192.88L527 194.23L529.02 194.9L529.69 194.9L531.72 194.23L533.07 192.88L533.74 190.85L533.74 190.18L533.07 188.16L531.72 186.81L529.69 186.13L529.02 186.13L527 186.81L525.65 188.16L524.97 190.18M537.79 178.04L539.14 179.39L540.49 181.41L541.83 184.11L542.51 187.48L542.51 190.18L541.83 193.55L540.49 196.25L539.14 198.27L537.79 199.62M558.7 178.04L546.56 199.62M572.19 184.11L571.51 182.76L570.16 181.41L568.81 180.74L566.12 180.74L564.77 181.41L563.42 182.76L562.74 184.11L562.07 186.13L562.07 189.5L562.74 191.53L563.42 192.88L564.77 194.23L566.12 194.9L568.81 194.9L570.16 194.23L571.51 192.88L572.19 191.53M580.28 180.74L578.93 181.41L577.58 182.76L576.91 184.11L576.23 186.13L576.23 189.5L576.91 191.53L577.58 192.88L578.93 194.23L580.28 194.9L582.98 194.9L584.33 194.23L585.68 192.88L586.35 191.53L587.03 189.5L587.03 186.13L586.35 184.11L585.68 182.76L584.33 181.41L582.98 180.74L580.28 180.74M596.47 178.04L595.12 179.39L593.77 181.41L592.42 184.11L591.75 187.48L591.75 190.18L592.42 193.55L593.77 196.25L595.12 198.27L596.47 199.62M607.26 180.74L600.52 190.18L610.63 190.18M607.26 180.74L607.26 194.9M614.68 188.83L626.82 188.83M632.89 180.74L640.31 180.74L636.26 186.13L638.29 186.13L639.64 186.81L640.31 187.48L640.99 189.5L640.99 190.85L640.31 192.88L638.96 194.23L636.94 194.9L634.91 194.9L632.89 194.23L632.22 193.55L631.54 192.2M645.03 178.04L646.38 179.39L647.73 181.41L649.08 184.11L649.75 187.48L649.75 190.18L649.08 193.55L647.73 196.25L646.38 198.27L645.03 199.62" fill="none" stroke="#00f" stroke-width="2" stroke-linecap="round" stroke-linejoin="round"/>
<text class="t" x="453" y="194.9" text-anchor="start">CO(7-6)/CO(4-3)</text>
</svg>
</body></html>
